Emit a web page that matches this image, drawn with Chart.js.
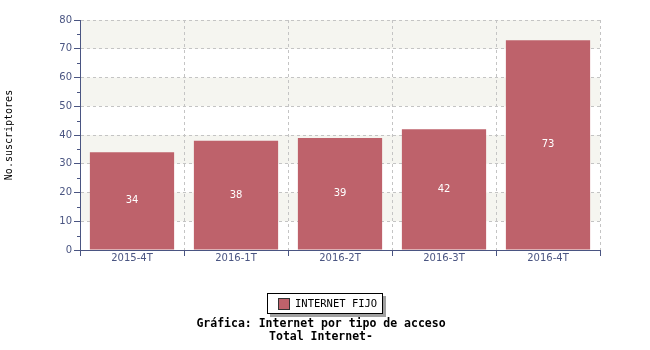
<!DOCTYPE html>
<html><head><meta charset="utf-8">
<script src="https://cdn.jsdelivr.net/npm/chart.js@4/dist/chart.umd.min.js"></script>
<style>html,body{margin:0;padding:0;background:#fff}#wrap{width:650px;height:350px;position:relative}</style>
</head><body><div id="wrap"><canvas id="c" width="650" height="350"></canvas></div>
<script>
const categories = ['2015-4T','2016-1T','2016-2T','2016-3T','2016-4T'];
const internetFijo = [34, 38, 39, 42, 73];
const seriesName = 'INTERNET FIJO';
const yTitle = 'No.suscriptores';
const titleLines = ['Gráfica: Internet por tipo de acceso', 'Total Internet-'];
const yMin = 0, yMax = 80, yStep = 10;

const AXIS = '#4a5582';
const BAR = '#be626b';
const MONO = '"DejaVu Sans Mono", monospace';
const SANS = '"DejaVu Sans", sans-serif';

const bandsPlugin = {
  id: 'bands',
  beforeDraw(chart) {
    const {ctx, chartArea: a, scales: {y}} = chart;
    ctx.save();
    ctx.fillStyle = '#f5f5f0';
    for (let v = yMin; v < yMax; v += yStep) {
      if (((v - yMin) / yStep) % 2 === 1) {
        const t = y.getPixelForValue(v + yStep), b = y.getPixelForValue(v);
        ctx.fillRect(a.left, t, a.right - a.left, b - t);
      }
    }
    ctx.restore();
  },
  afterDraw(chart) {
    const {ctx, chartArea: a, scales: {y}} = chart;
    ctx.save();
    ctx.strokeStyle = AXIS; ctx.lineWidth = 1;
    for (let v = yMin + yStep / 2; v < yMax; v += yStep) {
      const py = Math.round(y.getPixelForValue(v)) + 0.5;
      ctx.beginPath(); ctx.moveTo(a.left - 3, py); ctx.lineTo(a.left, py); ctx.stroke();
    }
    const meta = chart.getDatasetMeta(0);
    ctx.fillStyle = '#ffffff';
    ctx.font = '10px ' + SANS;
    ctx.textAlign = 'center'; ctx.textBaseline = 'middle';
    meta.data.forEach((bar, i) => {
      ctx.fillText(String(internetFijo[i]), bar.x, (bar.y + bar.base) / 2);
    });
    const lx = 267, ly = 293, lw = 116, lh = 21;
    ctx.fillStyle = '#a0a0a0';
    ctx.fillRect(lx + 3, ly + 3, lw, lh);
    ctx.fillStyle = '#ffffff';
    ctx.fillRect(lx, ly, lw, lh);
    ctx.strokeStyle = '#000'; ctx.lineWidth = 1;
    ctx.strokeRect(lx + 0.5, ly + 0.5, lw - 1, lh - 1);
    ctx.fillStyle = BAR;
    ctx.fillRect(278, 298, 12, 12);
    ctx.strokeStyle = '#333';
    ctx.strokeRect(278.5, 298.5, 11, 11);
    ctx.fillStyle = '#000';
    ctx.font = '10.5px ' + MONO;
    ctx.textAlign = 'left'; ctx.textBaseline = 'middle';
    ctx.fillText(seriesName, 295, 304);
    ctx.font = 'bold 11.5px ' + MONO;
    ctx.textAlign = 'center';
    ctx.fillText(titleLines[0], 321, 324);
    ctx.fillText(titleLines[1], 321, 337);
    ctx.restore();
  }
};

new Chart(document.getElementById('c'), {
  type: 'bar',
  data: {
    labels: categories,
    datasets: [{
      label: seriesName,
      data: internetFijo,
      backgroundColor: BAR,
      borderWidth: 0,
      categoryPercentage: 0.81,
      barPercentage: 1.0
    }]
  },
  plugins: [bandsPlugin],
  options: {
    responsive: false,
    animation: false,
    layout: { padding: { left: 0, top: 20, right: 50, bottom: 0 } },
    plugins: { legend: { display: false }, title: { display: false }, tooltip: { enabled: false } },
    scales: {
      x: {
        offset: true,
        afterFit(s) { s.height = 100; },
        grid: { offset: true, color: '#c4c4c4', tickColor: AXIS, tickLength: 6, tickBorderDash: [], lineWidth: 1 },
        border: { color: AXIS, width: 1, dash: [3, 3] },
        ticks: { color: AXIS, font: { family: SANS, size: 10 }, padding: -4, maxRotation: 0 }
      },
      y: {
        min: yMin, max: yMax,
        afterFit(s) { s.width = 80; },
        grid: { color: '#c4c4c4', tickColor: AXIS, tickLength: 6, tickBorderDash: [] },
        border: { color: AXIS, width: 1, dash: [3, 3] },
        ticks: { stepSize: yStep, color: AXIS, font: { family: SANS, size: 10 }, padding: 2 },
        title: { display: true, text: yTitle, color: '#000', font: { family: MONO, size: 10 }, padding: { top: 3, bottom: 0 } }
      }
    }
  }
});
</script></body></html>
